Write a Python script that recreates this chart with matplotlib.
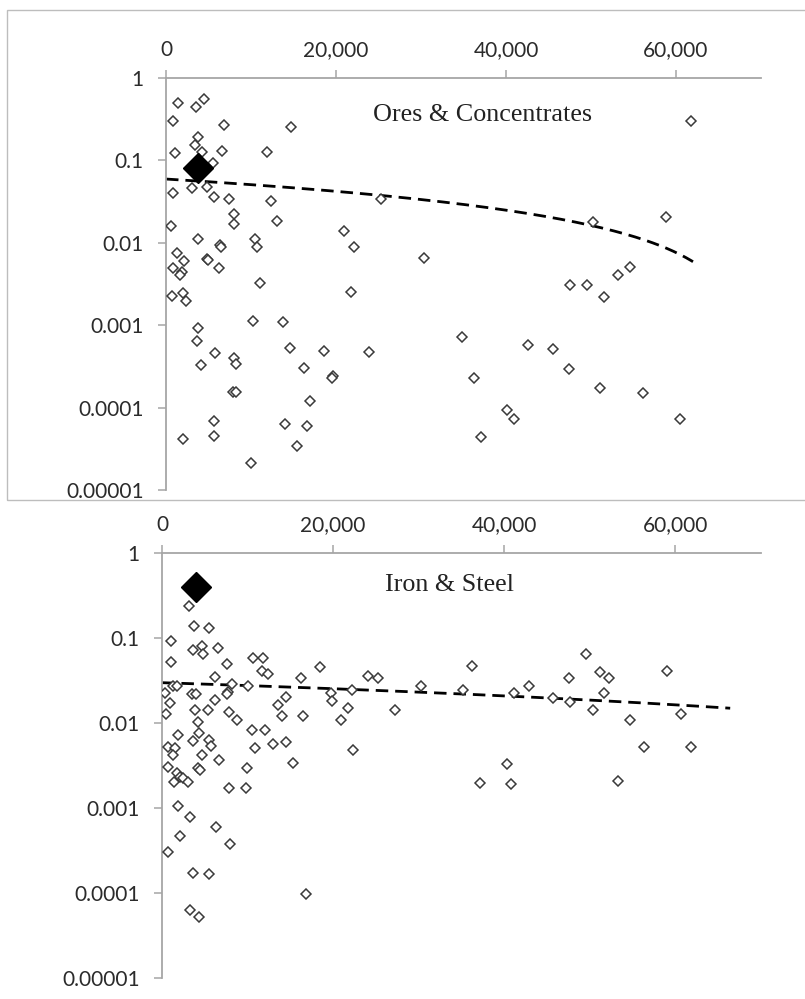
import numpy as np
import matplotlib
matplotlib.use("Agg")
import matplotlib.pyplot as plt
from matplotlib.patches import Rectangle
from matplotlib.ticker import FuncFormatter

# ---- Ores & Concentrates (top panel) ----
ores_x = [1450, 3490, 4470, 860, 6820, 14700, 3800, 3410, 1060, 4270,
          6620, 11850, 5490, 860, 3090, 4790, 5680, 7450, 12350, 8040,
          8040, 13000, 550, 3800, 6350, 6470, 10470, 10670, 1260, 2150,
          4790, 4980, 860, 1850, 1650, 6270, 11060, 670, 1960, 2320,
          3800, 10200, 13730, 3610, 5800, 8040, 8200, 14590, 4080, 16240,
          7920, 8200, 16940, 5650, 14000, 16550, 2040, 5650, 15380, 10000,
          25300, 20940, 22120, 30350, 21730, 34860, 18590, 23920, 19680, 19490,
          36240, 37060, 61760, 50270, 58790, 47530, 49490, 51530, 53210, 54590,
          42620, 45490, 47450, 51060, 56080, 40150, 40980, 60470]
ores_y = [0.493, 0.449, 0.552, 0.301, 0.269, 0.256, 0.194, 0.154, 0.122, 0.128,
          0.131, 0.125, 0.092, 0.0399, 0.0467, 0.048, 0.0357, 0.034, 0.0324, 0.0224,
          0.0169, 0.0185, 0.016, 0.011, 0.0094, 0.009, 0.0111, 0.009, 0.00746, 0.00601,
          0.00636, 0.00618, 0.00491, 0.00446, 0.00407, 0.00499, 0.00322, 0.00226, 0.00244, 0.00197,
          0.000917, 0.00113, 0.00108, 0.000648, 0.000456, 0.000403, 0.000338, 0.000529, 0.000329, 0.000303,
          0.000153, 0.000153, 0.000121, 0.0000693, 0.0000632, 0.0000593, 0.0000412, 0.0000452, 0.0000339, 0.0000211,
          0.0337, 0.014, 0.00897, 0.00648, 0.00253, 0.000725, 0.000491, 0.000469, 0.000242, 0.000227,
          0.000231, 0.0000443, 0.301, 0.018, 0.0207, 0.00307, 0.00307, 0.00222, 0.00407, 0.00513,
          0.000575, 0.00051, 0.000292, 0.000174, 0.000149, 0.0000935, 0.0000721, 0.0000721]
ores_mark = (3800, 0.080)
ores_trend = (0.0594, -8.63e-7, 0, 62000)   # intercept, slope, x from, x to
ores_label = "Ores & Concentrates"

# ---- Iron & Steel (bottom panel) ----
iron_x = [3160, 3780, 5500, 1020, 3590, 4710, 4830, 6510, 1020, 7570,
          10680, 11850, 11660, 12430, 6200, 16220, 18420, 1250, 1720, 350,
          3540, 3940, 8150, 7750, 7570, 10020, 940, 6200, 14470, 13530,
          470, 3860, 5420, 7840, 8740, 14070, 16530, 4180, 1910, 4330,
          10560, 12050, 3590, 5530, 5730, 740, 1520, 1320, 4640, 10880,
          13020, 14470, 6670, 15360, 670, 4250, 4440, 9980, 1790, 2110,
          2420, 1440, 3010, 7840, 9820, 1840, 3270, 6350, 2110, 7950,
          670, 3590, 5500, 16840, 3270, 4330, 24060, 25230, 36220, 19730,
          19920, 22190, 30260, 35120, 21720, 20900, 27250, 22370, 37110, 49590,
          47600, 51150, 52200, 59030, 42840, 41090, 45650, 47640, 51610, 50330,
          54650, 60670, 56290, 61840, 40320, 40780, 53300]
iron_y = [0.240, 0.140, 0.130, 0.0922, 0.0722, 0.0812, 0.0643, 0.0757, 0.0526, 0.0491,
          0.0577, 0.0577, 0.0409, 0.0374, 0.0351, 0.0336, 0.0456, 0.0275, 0.0272, 0.0227,
          0.0219, 0.0218, 0.0288, 0.0230, 0.0218, 0.0275, 0.0173, 0.0187, 0.0204, 0.0163,
          0.0128, 0.0142, 0.0142, 0.0134, 0.0108, 0.0122, 0.0122, 0.0104, 0.00722, 0.00769,
          0.00827, 0.00827, 0.00614, 0.00631, 0.00541, 0.00526, 0.00504, 0.00417, 0.00420, 0.00504,
          0.00566, 0.00593, 0.00367, 0.00341, 0.00306, 0.00293, 0.00280, 0.00293, 0.00256, 0.00233,
          0.00224, 0.00204, 0.00204, 0.00171, 0.00171, 0.00106, 0.000778, 0.000593, 0.000472, 0.000377,
          0.000306, 0.000173, 0.000166, 0.0000973, 0.0000631, 0.0000518, 0.0360, 0.0336, 0.0472, 0.0227,
          0.0183, 0.0244, 0.0275, 0.0244, 0.0149, 0.0108, 0.0142, 0.00481, 0.00199, 0.0643,
          0.0336, 0.0401, 0.0336, 0.0409, 0.0275, 0.0227, 0.0195, 0.0175, 0.0227, 0.0142,
          0.0108, 0.0127, 0.00526, 0.00526, 0.00329, 0.00190, 0.00208]
iron_mark = (3940, 0.402)
iron_trend = (0.0298, -2.24e-7, 0, 66400)
iron_label = "Iron & Steel"

x_ticks = [0, 20000, 40000, 60000]
y_ticks = [1, 0.1, 0.01, 0.001, 0.0001, 0.00001]
y_tick_labels = ["1", "0.1", "0.01", "0.001", "0.0001", "0.00001"]

AXIS_GREY = "#a6a6a6"
TICK_FONT = "Lato"
LABEL_FONT = "Liberation Serif"


def draw_panel(ax, xs, ys, mark, trend, label, label_pos):
    ax.set_yscale("log")
    ax.set_xlim(0, 70000)
    ax.set_ylim(0.00001, 1)

    ax.plot(xs, ys, linestyle="none", marker="D", markersize=5.2,
            markerfacecolor="white", markeredgecolor="#3a3a3a",
            markeredgewidth=1.1, zorder=3)
    ax.plot([mark[0]], [mark[1]], linestyle="none", marker="D",
            markersize=15, color="black", zorder=4)

    a, b, x0, x1 = trend
    tx = np.linspace(x0, x1, 300)
    ax.plot(tx, a + b * tx, color="black", linewidth=2.0,
            dashes=(4.5, 2.5), zorder=2)

    ax.text(label_pos[0], label_pos[1], label, ha="center", va="center",
            fontsize=18.8, family=LABEL_FONT, color="#222222")

    for side in ["right", "bottom"]:
        ax.spines[side].set_visible(False)
    for side in ["left", "top"]:
        ax.spines[side].set_color(AXIS_GREY)
        ax.spines[side].set_linewidth(1.3)

    ax.xaxis.tick_top()
    ax.set_xticks(x_ticks)
    ax.xaxis.set_major_formatter(FuncFormatter(lambda v, p: f"{v:,.0f}"))
    ax.set_yticks(y_ticks)
    ax.set_yticklabels(y_tick_labels)
    ax.yaxis.set_minor_locator(matplotlib.ticker.NullLocator())
    ax.tick_params(axis="both", which="major", direction="out", length=6,
                   width=1.1, color=AXIS_GREY, labelsize=15,
                   labelcolor="#2b2b2b", pad=7)
    ax.tick_params(axis="y", pad=10)
    for t in ax.get_xticklabels() + ax.get_yticklabels():
        t.set_family(TICK_FONT)
    ax.patch.set_alpha(0)


fig = plt.figure(figsize=(8.05, 9.99), dpi=100)

# gray frame around the top chart
fig.patches.append(Rectangle((7 / 805, 1 - 500 / 999), 1.0, 490 / 999,
                             transform=fig.transFigure, fill=False,
                             edgecolor="#bdbdbd", linewidth=1.0))

ax_top = fig.add_axes([166 / 805, 1 - 490 / 999, 595 / 805, 412 / 999])
draw_panel(ax_top, ores_x, ores_y, ores_mark, ores_trend, ores_label,
           (37200, 0.356))

ax_bot = fig.add_axes([162 / 805, 1 - 978 / 999, 599 / 805, 425 / 999])
draw_panel(ax_bot, iron_x, iron_y, iron_mark, iron_trend, iron_label,
           (33600, 0.42))

fig.savefig("out.png", dpi=100)
